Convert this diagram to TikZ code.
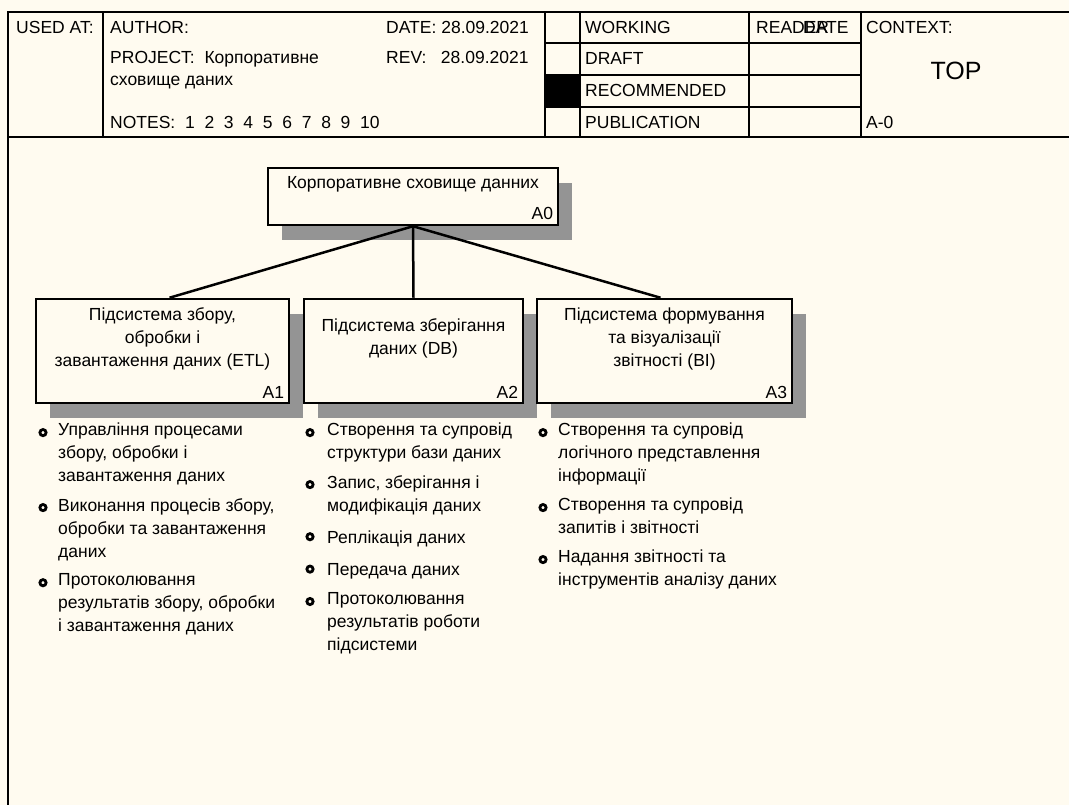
\documentclass[tikz,border=0pt]{standalone}
\usepackage{fontspec}
\setmainfont{Liberation Sans}
\usepackage{tikz}
\usetikzlibrary{positioning, calc, shadows}
\definecolor{PaperCream}{RGB}{255,251,240}
\newcommand{\idefFont}{\fontsize{17.5pt}{23pt}\selectfont}
\newcommand{\idefBig}{\fontsize{25pt}{30pt}\selectfont}
\begin{document}
\begin{tikzpicture}[x=1pt, y=-1pt,
	formline/.style={line width=1.4pt, line cap=rect},
	hdr/.style={anchor=base west, inner sep=0pt, font=\idefFont},
	actbox/.style={rectangle, draw=black, line width=2.5pt, fill=PaperCream, inner sep=0pt,
		drop shadow={shadow xshift=14pt, shadow yshift=-15pt, opacity=1,
			fill=black!42}},
	acttext/.style={align=center, inner sep=0pt, font=\idefFont,
		execute at begin node=\strut, execute at end node=\strut},
	actnum/.style={anchor=base east, inner sep=0pt, font=\idefFont},
	func/.style={anchor=north west, align=left, inner sep=0pt, font=\idefFont,
		execute at begin node=\strut, execute at end node=\strut},
	bul/.style={circle, draw=black, line width=2.8pt, fill=PaperCream,
		minimum size=6.2pt, inner sep=0pt},
	lnk/.style={line width=2.5pt}]

	\fill[PaperCream] (0,0) rectangle (1069,805);
	\useasboundingbox (0,0) rectangle (1069,805);

	\draw[formline] (8,805) -- (8,12) -- (1069,12);
	\draw[formline] (8,137) -- (1069,137);
	\draw[formline] (103,12) -- (103,137);
	\draw[formline] (545,12) -- (545,137);
	\draw[formline] (580,12) -- (580,137);
	\draw[formline] (749,12) -- (749,137);
	\draw[formline] (861,12) -- (861,137);
	\draw[formline] (545,43) -- (861,43);
	\draw[formline] (545,75) -- (861,75);
	\draw[formline] (545,107) -- (861,107);
	\fill[black] (545,75) rectangle (580,107);

	\node[hdr] (usedat)   at (16,33.5)  {USED AT:};
	\node[hdr] (author)   at (110,33.5) {AUTHOR:};
	\node[hdr] (date)     at (386,33.5) {DATE: 28.09.2021};
	\node[hdr] (project)  at (110,64)   {PROJECT:~~Корпоративне};
	\node[hdr] (project2) at (110,86)   {сховище даних};
	\node[hdr] (rev)      at (386,64)   {REV:~~~28.09.2021};
	\node[hdr] (notes)    at (110,129)  {NOTES:~~1~~2~~3~~4~~5~~6~~7~~8~~9~~10};
	\node[hdr] (working)  at (585,33.5) {WORKING};
	\node[hdr] (draft)    at (585,65)   {DRAFT};
	\node[hdr] (recom)    at (585,97)   {RECOMMENDED};
	\node[hdr] (publ)     at (585,129)  {PUBLICATION};
	\node[hdr] (reader)   at (756,33.5) {READER};
	\node[hdr] (rdate)    at (803,33.5) {DATE};
	\node[hdr] (context)  at (866,33.5) {CONTEXT:};
	\node[hdr, anchor=base, font=\idefBig] (topnode) at (956,80) {TOP};
	\node[hdr] (nodenum)  at (866,129)  {A-0};

	\node[actbox, minimum width=290, minimum height=57]  (a0) at (413,196.5) {};
	\node[actbox, minimum width=253, minimum height=104] (a1) at (162.5,351) {};
	\node[actbox, minimum width=219, minimum height=104] (a2) at (413.5,351) {};
	\node[actbox, minimum width=255, minimum height=104] (a3) at (664.5,351) {};

	\draw[lnk] (a0.south) -- ($(a1.north)+(7,0)$);
	\draw[lnk] (a0.south) -- (a2.north);
	\draw[lnk] (a0.south) -- ($(a3.north)+(-4,0)$);

	\node[acttext] (a0t) at ($(a0.north)+(0,17.4)$) {Корпоративне сховище данних};
	\node[acttext] (a1t) at ($(a1.north)+(0,42.5)$) {Підсистема збору,\\обробки і\\завантаження даних (ETL)};
	\node[acttext] (a2t) at ($(a2.north)+(0,42.5)$) {Підсистема зберігання\\даних (DB)};
	\node[acttext] (a3t) at ($(a3.north)+(0,42.5)$) {Підсистема формування\\та візуалізації\\звітності (BI)};
	\node[actnum] (a0n) at ($(a0.south east)+(-6,-7)$) {A0};
	\node[actnum] (a1n) at ($(a1.south east)+(-6,-6)$) {A1};
	\node[actnum] (a2n) at ($(a2.south east)+(-6,-6)$) {A2};
	\node[actnum] (a3n) at ($(a3.south east)+(-6,-6)$) {A3};

	\node[func] (f11) at (58,423) {Управління процесами\\збору, обробки і\\завантаження даних};
	\node[below=9pt of f11.south west, func] (f12) {Виконання процесів збору,\\обробки та завантаження\\даних};
	\node[below=9pt of f12.south west, func] (f13) {Протоколювання\\результатів збору, обробки\\і завантаження даних};

	\node[func] (f21) at (327,423) {Створення та супровід\\структури бази даних};
	\node[below=9pt of f21.south west, func] (f22) {Запис, зберігання і\\модифікація даних};
	\node[below=9pt of f22.south west, func] (f23) {Реплікація даних};
	\node[below=9pt of f23.south west, func] (f24) {Передача даних};
	\node[below=9pt of f24.south west, func] (f25) {Протоколювання\\результатів роботи\\підсистеми};

	\node[func] (f31) at (558,423) {Створення та супровід\\логічного представлення\\інформації};
	\node[below=9pt of f31.south west, func] (f32) {Створення та супровід\\запитів і звітності};
	\node[below=9pt of f32.south west, func] (f33) {Надання звітності та\\інструментів аналізу даних};

	\node[bul] (b11) at ($(f11.north west)+(-15,9.6)$) {};
	\node[bul] (b12) at ($(f12.north west)+(-15,9.6)$) {};
	\node[bul] (b13) at ($(f13.north west)+(-15,9.6)$) {};
	\node[bul] (b21) at ($(f21.north west)+(-17,9.6)$) {};
	\node[bul] (b22) at ($(f22.north west)+(-17,9.6)$) {};
	\node[bul] (b23) at ($(f23.north west)+(-17,9.6)$) {};
	\node[bul] (b24) at ($(f24.north west)+(-17,9.6)$) {};
	\node[bul] (b25) at ($(f25.north west)+(-17,9.6)$) {};
	\node[bul] (b31) at ($(f31.north west)+(-15,9.6)$) {};
	\node[bul] (b32) at ($(f32.north west)+(-15,9.6)$) {};
	\node[bul] (b33) at ($(f33.north west)+(-15,9.6)$) {};
\end{tikzpicture}
\end{document}
